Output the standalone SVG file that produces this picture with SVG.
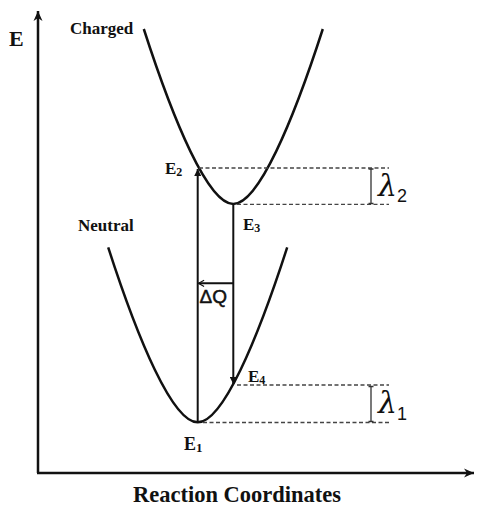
<svg xmlns="http://www.w3.org/2000/svg" width="478" height="508" viewBox="0 0 478 508">
  <defs>
    <style>
      .bold { font-family: "Liberation Serif", "Times New Roman", serif; font-weight: bold; fill: #111; }
      .curve { fill: none; stroke: #111; stroke-width: 2.5; }
      .axis { fill: none; stroke: #111; stroke-width: 2.5; }
      .vline { fill: none; stroke: #111; stroke-width: 2; }
      .dash { fill: none; stroke: #444; stroke-width: 1.3; stroke-dasharray: 4 2.5; }
      .bar { fill: none; stroke: #333; stroke-width: 1.3; }
      .lam { font-family: "DejaVu Serif", "Liberation Serif", serif; font-style: italic; fill: #111; }
      .sub { font-family: "Liberation Sans", Arial, sans-serif; fill: #111; }
    </style>
    <marker id="tri" viewBox="0 0 10 10" refX="10" refY="5" markerWidth="8" markerHeight="7" markerUnits="userSpaceOnUse" orient="auto">
      <path d="M0,0 L10,5 L0,10 Z" fill="#111"/>
    </marker>
    <marker id="chev" viewBox="0 0 10 10" refX="9" refY="5" markerWidth="7" markerHeight="8" markerUnits="userSpaceOnUse" orient="auto">
      <path d="M1,0.5 L9,5 L1,9.5" fill="none" stroke="#111" stroke-width="1.6"/>
    </marker>
    <marker id="axhead" viewBox="0 0 10 10" refX="10" refY="5" markerWidth="10" markerHeight="10" markerUnits="userSpaceOnUse" orient="auto">
      <path d="M0,0.5 L10,5 L0,9.5 L3,5 Z" fill="#111"/>
    </marker>
  </defs>
  <rect width="478" height="508" fill="#fff"/>

  <g id="axes">
    <path class="axis" d="M38,473 L38,11" marker-end="url(#axhead)"/>
    <path class="axis" d="M37,473 L474,473" marker-end="url(#axhead)"/>
    <text class="bold" x="9" y="46" font-size="22">E</text>
    <text class="bold" x="237" y="502" font-size="22.5" text-anchor="middle">Reaction Coordinates</text>
  </g>

  <g id="charged">
    <path class="curve" d="M143.8,29 C173.8,122 208.3,204 233.3,204 C258.3,204 292.8,122 322.8,29"/>
    <text class="bold" x="70" y="34" font-size="17">Charged</text>
  </g>

  <g id="neutral">
    <path class="curve" d="M108.2,247.3 C138.2,340.3 172.7,422.3 197.7,422.3 C222.7,422.3 257.2,340.3 287.2,247.3"/>
    <text class="bold" x="78" y="231" font-size="17">Neutral</text>
  </g>

  <g id="levels">
    <path class="dash" d="M199,168 H389 M237,204.3 H389 M237,385 H389 M203,422.5 H389"/>
    <path class="bar" d="M371,169 V203.5 M368.5,169 H373.5 M368.5,203.5 H373.5"/>
    <path class="bar" d="M371,386.5 V421.5 M368.5,386.5 H373.5 M368.5,421.5 H373.5"/>
    <text x="378" y="196" class="lam" font-size="30">λ<tspan class="sub" font-style="normal" font-size="18" dy="6">2</tspan></text>
    <text x="378" y="413" class="lam" font-size="30">λ<tspan class="sub" font-style="normal" font-size="18" dy="7">1</tspan></text>
  </g>

  <g id="connectors">
    <path class="vline" d="M197.7,422 V169" marker-end="url(#tri)"/>
    <path class="vline" d="M233.3,205 V384" marker-end="url(#tri)"/>
    <path class="vline" d="M233.3,283.3 H198.5" stroke-width="1.8" marker-end="url(#chev)"/>
  </g>

  <g id="labels">
    <text class="bold" x="165" y="173.5" font-size="17">E<tspan font-size="12" dy="2">2</tspan></text>
    <text class="bold" x="243" y="229.5" font-size="17">E<tspan font-size="12" dy="2">3</tspan></text>
    <text class="bold" x="248" y="381.5" font-size="17">E<tspan font-size="12" dy="2">4</tspan></text>
    <text class="bold" x="184" y="450" font-size="18">E<tspan font-size="13" dy="2">1</tspan></text>
    <text class="sub" x="199.5" y="302.5" font-size="19" stroke="#111" stroke-width="0.5">ΔQ</text>
  </g>
</svg>
